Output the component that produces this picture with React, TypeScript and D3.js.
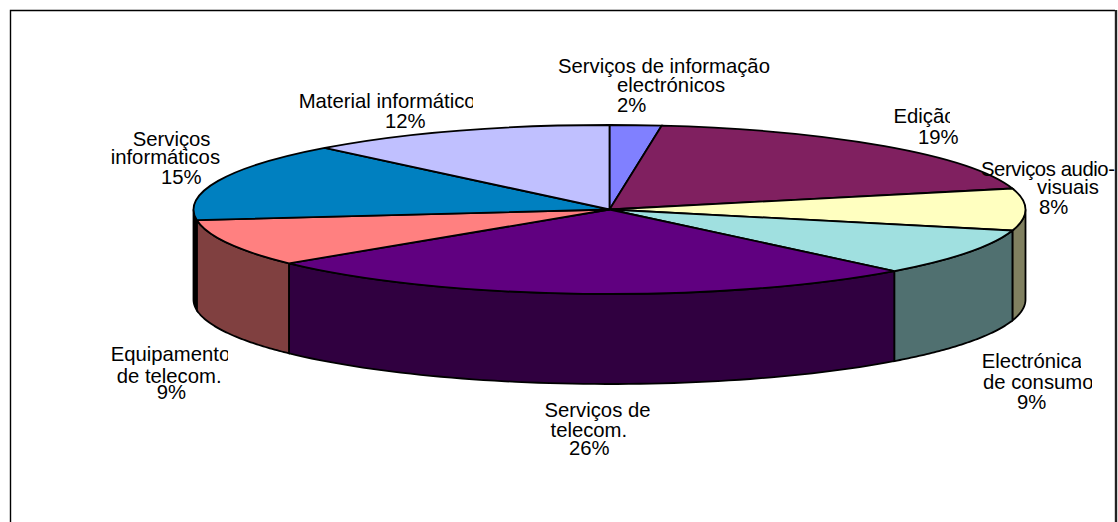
import React from "react";
import * as d3 from "d3";

const categories = [
  "Serviços de informação electrónicos",
  "Edição",
  "Serviços audio-visuais",
  "Electrónica de consumo",
  "Serviços de telecom.",
  "Equipamento de telecom.",
  "Serviços informáticos",
  "Material informático",
];
const values = [2, 19, 8, 9, 26, 9, 15, 12];
const topColors = ["#8080FF", "#802060", "#FFFFC0", "#A0E0E0", "#600080", "#FF8080", "#0080C0", "#C0C0FF"];
const sideColors = ["#404080", "#401030", "#808060", "#507070", "#300040", "#804040", "#000000", "#606080"];
const labelLines = [
  ["Serviços de informação", "electrónicos", "2%"],
  ["Edição", "19%"],
  ["Serviços audio-", "visuais", "8%"],
  ["Electrónica", "de consumo", "9%"],
  ["Serviços de", "telecom.", "26%"],
  ["Equipamento", "de telecom.", "9%"],
  ["Serviços", "informáticos", "15%"],
  ["Material informático", "12%"],
];
const labelLefts = [
  [558, 617, 617],
  [893.5, 918],
  [981, 1037, 1039],
  [981.7, 983, 1017],
  [544.5, 550.5, 569],
  [110.7, 116.7, 156.7],
  [132.7, 110.7, 161],
  [298.7, 385],
];
const labelBaselines = [
  [73, 92, 112],
  [123, 144],
  [176, 194, 214],
  [368, 389, 409],
  [417, 437, 455],
  [361, 383, 399],
  [146, 164, 184],
  [108, 128],
];
// Right-hand cut of the lines that the reference clips; 0 means no cut.
const labelClips = [
  [0, 0, 0],
  [950, 0],
  [0, 0, 0],
  [1081, 1092, 0],
  [0, 0, 0],
  [228, 0, 0],
  [0, 0, 0],
  [473, 0],
];
// Fitted width for the one line that would otherwise run off the page; 0 means natural width.
const labelFits = [
  [0, 0, 0],
  [0, 0],
  [134, 0, 0],
  [0, 0, 0],
  [0, 0, 0],
  [0, 0, 0],
  [0, 0, 0],
  [0, 0],
];

const cx = 609.5;
const cy = 209.5;
const rx = 416;
const ry = 84.5;
const depth = 90;
const edge = 1.8;

export default function App() {
  const pie = d3.pie<number>().sort(null).value((d) => d);
  const arcs = pie(values);
  const arc = d3.arc<d3.PieArcDatum<number>>().innerRadius(0).outerRadius(rx);
  const line = d3.line<[number, number]>();
  const sx = (a: number) => cx + rx * Math.sin(a);
  const sy = (a: number) => cy - ry * Math.cos(a);

  const wall = (a0: number, a1: number) => {
    const lo = Math.max(a0, Math.PI / 2);
    const hi = Math.min(a1, (3 * Math.PI) / 2);
    if (hi <= lo) return null;
    const steps = d3.range(0, 61).map((i) => lo + ((hi - lo) * i) / 60);
    const top = steps.map((a) => [sx(a), sy(a)] as [number, number]);
    const bottom = steps.slice().reverse().map((a) => [sx(a), sy(a) + depth] as [number, number]);
    return line([...top, ...bottom]) + "Z";
  };

  return (
    <svg
      width={1118}
      height={522}
      style={{ position: "absolute", left: 0, top: 0, background: "#fff" }}
      fontFamily="'Liberation Sans', Arial, sans-serif"
    >
      <path d="M10.5 522V10.5H1115" fill="none" stroke="#000" strokeWidth={1.4} />
      <path d="M1116 10V522" fill="none" stroke="#222" strokeWidth={2.4} />
      {arcs.map((d, i) => {
        const p = wall(d.startAngle, d.endAngle);
        return p ? <path key={i} d={p} fill={sideColors[i]} stroke="#000" strokeWidth={edge} /> : null;
      })}
      <g transform={`translate(${cx},${cy}) scale(1,${ry / rx})`}>
        {arcs.map((d, i) => (
          <path
            key={i}
            d={arc(d) as string}
            fill={topColors[i]}
            stroke="#000"
            strokeWidth={edge}
            vectorEffect="non-scaling-stroke"
          >
            <title>{categories[i]}</title>
          </path>
        ))}
      </g>
      <defs>
        {labelLines.map((lines, i) =>
          lines.map((_, j) =>
            labelClips[i][j] ? (
              <clipPath key={i + "-" + j} id={`cut-${i}-${j}`}>
                <rect x={0} y={0} width={labelClips[i][j]} height={522} />
              </clipPath>
            ) : null
          )
        )}
      </defs>
      {labelLines.map((lines, i) =>
        lines.map((t, j) => (
          <text
            key={i + "-" + j}
            x={labelLefts[i][j]}
            y={labelBaselines[i][j]}
            fontSize={20.3}
            fill="#000"
            textLength={labelFits[i][j] || undefined}
            clipPath={labelClips[i][j] ? `url(#cut-${i}-${j})` : undefined}
          >
            {t}
          </text>
        ))
      )}
    </svg>
  );
}
